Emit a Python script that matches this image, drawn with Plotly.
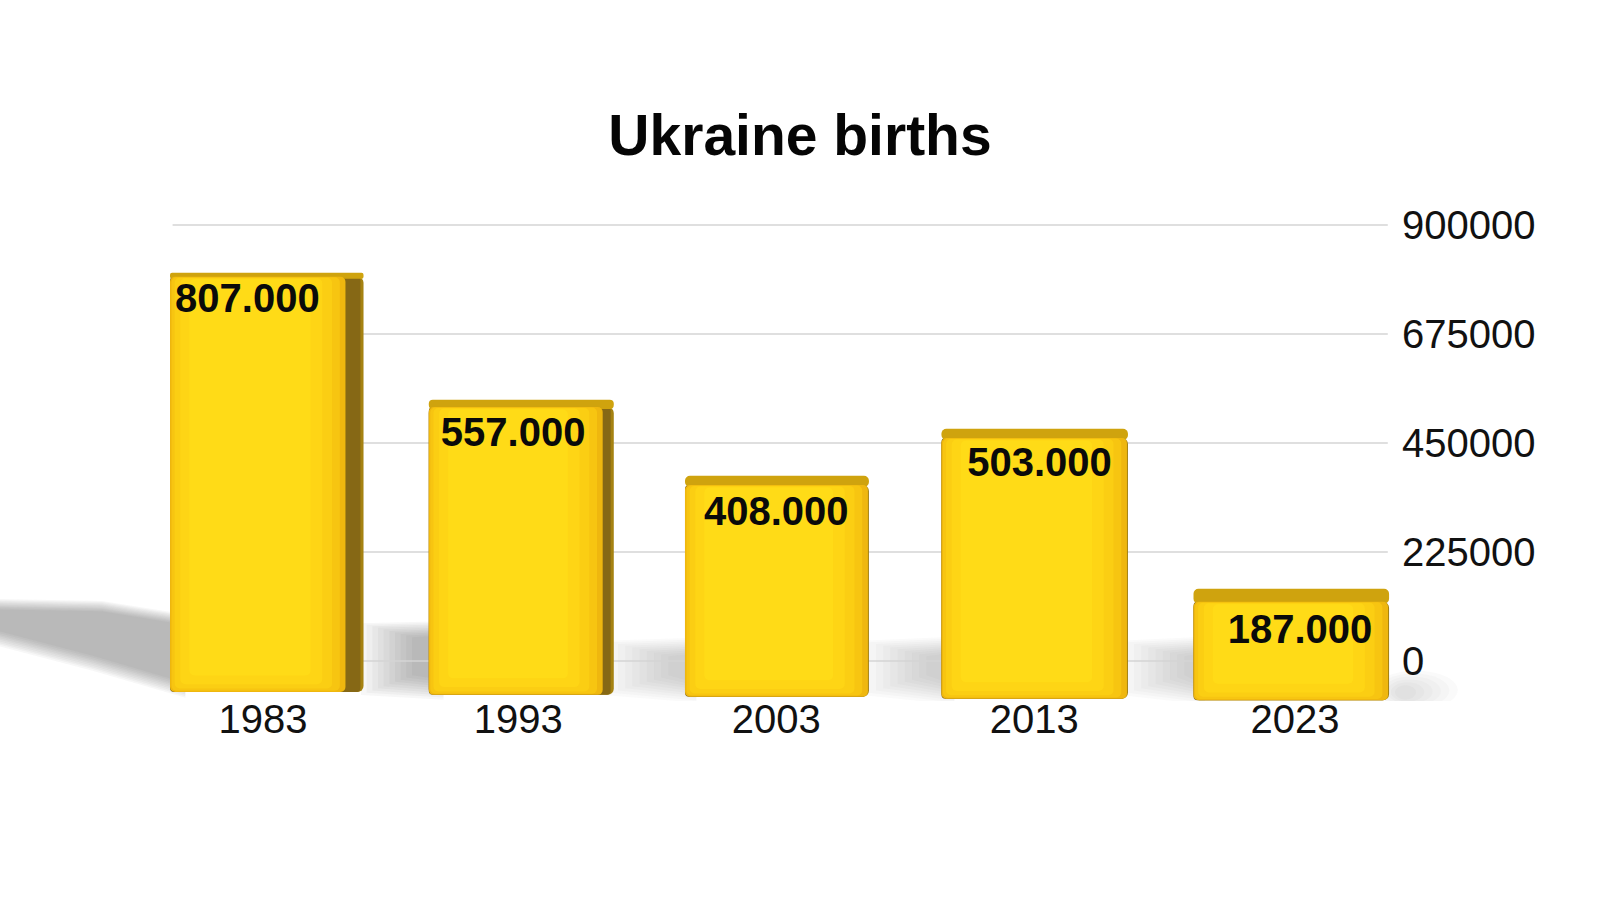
import plotly.graph_objects as go

# ---- data ----
years = [1983, 1993, 2003, 2013, 2023]
birth_labels = ["807.000", "557.000", "408.000", "503.000", "187.000"]
drawn_top = [797000, 535000, 378000, 475000, 145000]   # apparent bar tops against the axis
front_top = [789000, 520000, 359000, 456000, 118000]   # where the front face begins
bar_base = [-68000, -74000, -78000, -82000, -85000]
y_ticks = [0, 225000, 450000, 675000, 900000]
year_label_pos = [1983, 1992.9, 2002.9, 2012.9, 2023]

# ---- geometry in axis units ----
front_offset = [-3.60, -3.57, -3.64, -3.70, -3.93]
front_width = [6.80, 6.74, 7.09, 7.19, 7.54]
side_width = [7.50, 7.17, 7.13, 7.23, 7.58]
label_x = [1982.4, 1992.7, 2002.9, 2013.1, 2023.2]
label_y = [736000, 460000, 298000, 398000, 54000]

X_RANGE = [1972.81, 2026.88]
Y_RANGE = [-86700, 926700]
TICK_Y_RANGE = [-82600, 930800]
GRID_X = [1979.5, 2026.6]

FONT = "Liberation Sans"
fig = go.Figure()


def soft_shadow(top_x, top_y, bot_x, bot_y, layers, step_top, step_bot, x_step, color):
    """Stacked translucent polygons that fake a blurred ground shadow."""
    for i in range(layers):
        tx = [top_x[0] + i * x_step] + list(top_x[1:])
        bx = list(bot_x[:-1]) + [bot_x[-1] + i * x_step]
        ty = [v - i * step_top for v in top_y]
        by = [v + i * step_bot for v in bot_y]
        fig.add_trace(go.Scatter(x=tx + bx + [tx[0]], y=ty + by + [ty[0]], mode="lines", fill="toself",
                                 fillcolor=color, line=dict(width=0), hoverinfo="skip",
                                 showlegend=False))


# ground shadows (lowest subplot)
soft_shadow([1972.81, 1976.76, 1979.8], [128000, 124000, 98000],
            [1980.0, 1976.4, 1972.81], [-76000, -20000, 30000], 10, 2400, 3400, 0.0, "rgba(60,60,60,0.045)")
soft_shadow([1986.8, 1990.0], [78000, 82000], [1990.0, 1986.8], [-80000, -70000], 10, 3200, 4500, 0.22, "rgba(60,60,60,0.045)")
soft_shadow([1996.2, 1999.8], [42000, 48000], [1999.8, 1996.2], [-86000, -70000], 10, 3600, 4500, 0.28, "rgba(80,80,80,0.032)")
soft_shadow([2006.2, 2009.8], [42000, 50000], [2009.8, 2006.2], [-90000, -70000], 10, 3600, 4500, 0.28, "rgba(80,80,80,0.032)")
soft_shadow([2016.2, 2019.5], [42000, 50000], [2019.5, 2016.2], [-90000, -70000], 10, 3600, 4500, 0.28, "rgba(80,80,80,0.032)")

# gridlines
grid_x, grid_y = [], []
for t in y_ticks:
    grid_x += [GRID_X[0], GRID_X[1], None]
    grid_y += [t, t, None]
fig.add_trace(go.Scatter(x=grid_x, y=grid_y, mode="lines", line=dict(color="#d4d4d4", width=1.5),
                         hoverinfo="skip", showlegend=False))


def bars(width, offset, top, base, color, radius=6):
    fig.add_trace(go.Bar(x=years, y=[t - b for t, b in zip(top, base)], base=base, width=width,
                         offset=offset, marker=dict(color=color, line=dict(width=0), cornerradius=radius),
                         xaxis="x2", yaxis="y2", cliponaxis=False, hoverinfo="skip", showlegend=False))


# side face: dark brown with a lighter outer rim
bars(side_width, front_offset, front_top, bar_base, "#a58212")
bars([s - 0.12 for s in side_width], front_offset, front_top, bar_base, "#866815", 4)
# top face
bars(side_width, front_offset, drawn_top, [t - 4000 for t in front_top], "#cfa30e", 5)
# front face, layered from edge to centre to suggest shading
bars(front_width, front_offset, front_top, bar_base, "#efb70f", 5)
bars([w - 0.28 for w in front_width], [o + 0.06 for o in front_offset],
     [t - 1000 for t in front_top], [b + 2500 for b in bar_base], "#f7c511", 5)
bars([w - 0.70 for w in front_width], [o + 0.18 for o in front_offset],
     [t - 2000 for t in front_top], [b + 7000 for b in bar_base], "#fbce13", 5)
bars([w - 1.30 for w in front_width], [o + 0.40 for o in front_offset],
     [t - 3000 for t in front_top], [b + 16000 for b in bar_base], "#fed515", 5)
bars([w - 2.10 for w in front_width], [o + 0.75 for o in front_offset],
     [t - 5000 for t in front_top], [b + 34000 for b in bar_base], "#ffdb17", 5)

# value labels
fig.add_trace(go.Scatter(x=label_x, y=label_y, text=birth_labels, mode="text", xaxis="x2", yaxis="y2",
                         textposition="middle center",
                         textfont=dict(family=FONT, size=40, color="#0a0a0a", weight="bold"),
                         hoverinfo="skip", showlegend=False))

# faint shadow to the right of the last bar, past the end of the plot area
right_shadow = [
    dict(type="circle", xref="paper", yref="y", layer="below", x0=0.985 + i * 0.003, x1=1.045 - i * 0.006,
         y0=-100000 + i * 4000, y1=-20000 - i * 6000, fillcolor="rgba(90,90,90,0.03)", line=dict(width=0))
    for i in range(6)
]

fig.update_layout(
    width=1600, height=900,
    margin=dict(l=0, r=205, t=210, b=199),
    paper_bgcolor="white", plot_bgcolor="rgba(0,0,0,0)",
    barmode="overlay", showlegend=False, shapes=right_shadow,
    title=dict(text="Ukraine births", x=0.5, xanchor="center", xref="container", y=0.85, yref="container",
               yanchor="middle", font=dict(family=FONT, size=57, color="#050505", weight="bold")),
    xaxis=dict(range=X_RANGE, tickmode="array", tickvals=year_label_pos, ticktext=[str(y) for y in years],
               showgrid=False, zeroline=False, showline=False, ticks="", ticklabelstandoff=-9,
               tickfont=dict(family=FONT, size=40, color="#111111")),
    yaxis=dict(range=TICK_Y_RANGE, side="right", tickmode="array", tickvals=y_ticks,
               ticktext=[str(t) for t in y_ticks], showgrid=False, zeroline=False, showline=False,
               ticks="", ticklabelstandoff=6, tickfont=dict(family=FONT, size=40, color="#111111")),
    xaxis2=dict(range=X_RANGE, overlaying="x", visible=False),
    yaxis2=dict(range=Y_RANGE, overlaying="y", visible=False),
)

fig.write_html("out.html", config=dict(displayModeBar=False), post_script="document.body.style.margin='0';")
